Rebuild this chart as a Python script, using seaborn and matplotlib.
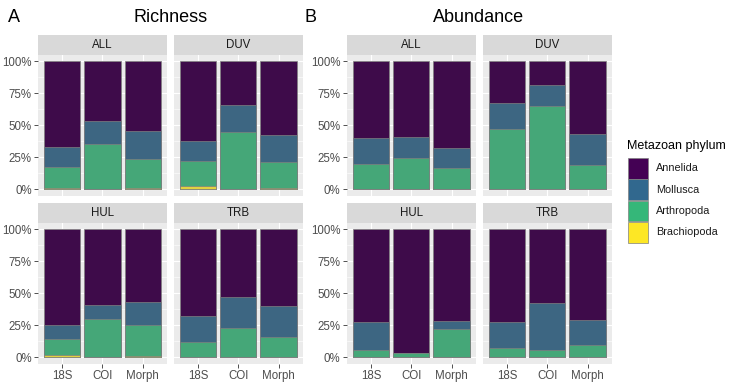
import numpy as np
import pandas as pd
import seaborn as sns
import matplotlib
matplotlib.use('Agg')
import matplotlib.pyplot as plt
from matplotlib.patches import Rectangle
from matplotlib.ticker import FixedLocator

# categories
methods = ['18S', 'COI', 'Morph']
sites = ['ALL', 'DUV', 'HUL', 'TRB']
phyla = ['Annelida', 'Mollusca', 'Arthropoda', 'Brachiopoda']
colors = ['#440154', '#31688E', '#35B779', '#FDE725']

# percentages, rows = sites (ALL, DUV, HUL, TRB), cols = methods (18S, COI, Morph)
rich_annelida = [[66.9, 46.9, 54.8], [62.4, 34.3, 57.4], [74.8, 58.9, 56.6], [67.7, 52.6, 59.7]]
rich_mollusca = [[15.5, 17.9, 21.8], [15.5, 21.0, 21.3], [10.9, 11.2, 18.0], [20.6, 24.4, 24.7]]
rich_arthropoda = [[16.5, 35.2, 22.9], [19.7, 44.7, 20.3], [12.7, 29.9, 24.2], [11.7, 23.0, 15.6]]
rich_brachiopoda = [[1.1, 0.0, 0.5], [2.4, 0.0, 1.0], [1.6, 0.0, 1.2], [0.0, 0.0, 0.0]]

abund_annelida = [[59.8, 59.0, 67.6], [32.9, 18.7, 56.6], [72.4, 96.5, 71.9], [72.7, 57.9, 71.1]]
abund_mollusca = [[20.5, 16.5, 15.8], [20.1, 16.3, 24.2], [22.3, 0.5, 6.3], [20.2, 36.2, 19.1]]
abund_arthropoda = [[19.7, 24.5, 16.4], [46.7, 65.0, 18.9], [5.3, 3.0, 21.5], [7.1, 5.9, 9.8]]
abund_brachiopoda = [[0.0, 0.0, 0.2], [0.3, 0.0, 0.3], [0.0, 0.0, 0.3], [0.0, 0.0, 0.0]]


def long_table(ann, mol, art, bra):
    rows = []
    for i, s in enumerate(sites):
        for j, m in enumerate(methods):
            vals = [ann[i][j], mol[i][j], art[i][j], bra[i][j]]
            tot = sum(vals)
            # stacked from the bottom: Brachiopoda, Arthropoda, Mollusca, Annelida
            cum = np.cumsum(vals[::-1])[::-1] / tot
            for k, p in enumerate(phyla):
                rows.append({'site': s, 'method': m, 'phylum': p, 'top': cum[k]})
    return pd.DataFrame(rows)


df_rich = long_table(rich_annelida, rich_mollusca, rich_arthropoda, rich_brachiopoda)
df_abund = long_table(abund_annelida, abund_mollusca, abund_arthropoda, abund_brachiopoda)

W, H = 748, 383
fig = plt.figure(figsize=(W / 100, H / 100), dpi=100)
plt.rcParams['font.family'] = ['Liberation Sans', 'DejaVu Sans']

col_x = [[(38.3, 166.7), (174.0, 302.7)], [(346.7, 475.7), (482.7, 611.7)]]
row_y = [((34.5, 55.0), (55.0, 195.5)), ((202.5, 223.0), (223.0, 363.5))]


def px_axes(x0, x1, y0, y1):
    return fig.add_axes([x0 / W, 1 - y1 / H, (x1 - x0) / W, (y1 - y0) / H])


def draw_block(df, cols):
    for idx, site in enumerate(sites):
        r, c = divmod(idx, 2)
        x0, x1 = cols[c]
        (sy0, sy1), (py0, py1) = row_y[r]
        # strip
        sax = px_axes(x0, x1, sy0, sy1)
        sax.set_facecolor('#D9D9D9')
        sax.set_xticks([]); sax.set_yticks([])
        for sp in sax.spines.values():
            sp.set_visible(False)
        sax.text(0.5, 0.5, site, ha='center', va='center', fontsize=8.3, color='#1A1A1A',
                 transform=sax.transAxes)
        # panel
        ax = px_axes(x0, x1, py0, py1)
        ax.set_facecolor('#EBEBEB')
        sub = df[df['site'] == site]
        sns.barplot(data=sub, x='method', y='top', hue='phylum', hue_order=phyla,
                    order=methods, palette=colors, dodge=False, width=0.9,
                    edgecolor='#808080', linewidth=0.5, legend=False, ax=ax, zorder=3)
        ax.set_xlim(-0.6, 2.6)
        ax.set_ylim(-0.05, 1.05)
        ax.yaxis.set_major_locator(FixedLocator([0, 0.25, 0.5, 0.75, 1.0]))
        ax.yaxis.set_minor_locator(FixedLocator([0.125, 0.375, 0.625, 0.875]))
        ax.grid(True, which='major', color='white', linewidth=0.8, zorder=0)
        ax.grid(True, which='minor', axis='y', color='white', linewidth=0.4, zorder=0)
        ax.set_axisbelow(True)
        for sp in ax.spines.values():
            sp.set_visible(False)
        ax.set_xlabel(''); ax.set_ylabel('')
        ax.tick_params(which='major', length=2.7, width=0.6, color='#333333',
                       labelsize=8.3, labelcolor='#4D4D4D', pad=2)
        ax.tick_params(which='minor', length=0)
        if c == 0:
            ax.set_yticklabels(['0%', '25%', '50%', '75%', '100%'])
        else:
            ax.tick_params(axis='y', which='major', length=0, labelleft=False)
        if r == 0:
            ax.tick_params(axis='x', length=0, labelbottom=False)


draw_block(df_rich, col_x[0])
draw_block(df_abund, col_x[1])

# titles and panel letters
fig.text(8 / W, 1 - 18 / H, 'A', fontsize=13, ha='left', va='center')
fig.text(171 / W, 1 - 18 / H, 'Richness', fontsize=13, ha='center', va='center')
fig.text(305 / W, 1 - 18 / H, 'B', fontsize=13, ha='left', va='center')
fig.text(479 / W, 1 - 18 / H, 'Abundance', fontsize=13, ha='center', va='center')

# legend
fig.text(627 / W, 1 - 146 / H, 'Metazoan phylum', fontsize=9, ha='left', va='center')
for k, (p, col) in enumerate(zip(phyla, colors)):
    ky = 158 + k * 21.3
    fig.patches.append(Rectangle((627.7 / W, 1 - (ky + 20.6) / H), 20.6 / W, 20.6 / H,
                                 transform=fig.transFigure, facecolor=col,
                                 edgecolor='#808080', linewidth=0.5))
    fig.text(656 / W, 1 - (ky + 10.3) / H, p, fontsize=7.8, ha='left', va='center', color='#1A1A1A')

fig.savefig('out.png', dpi=100)
